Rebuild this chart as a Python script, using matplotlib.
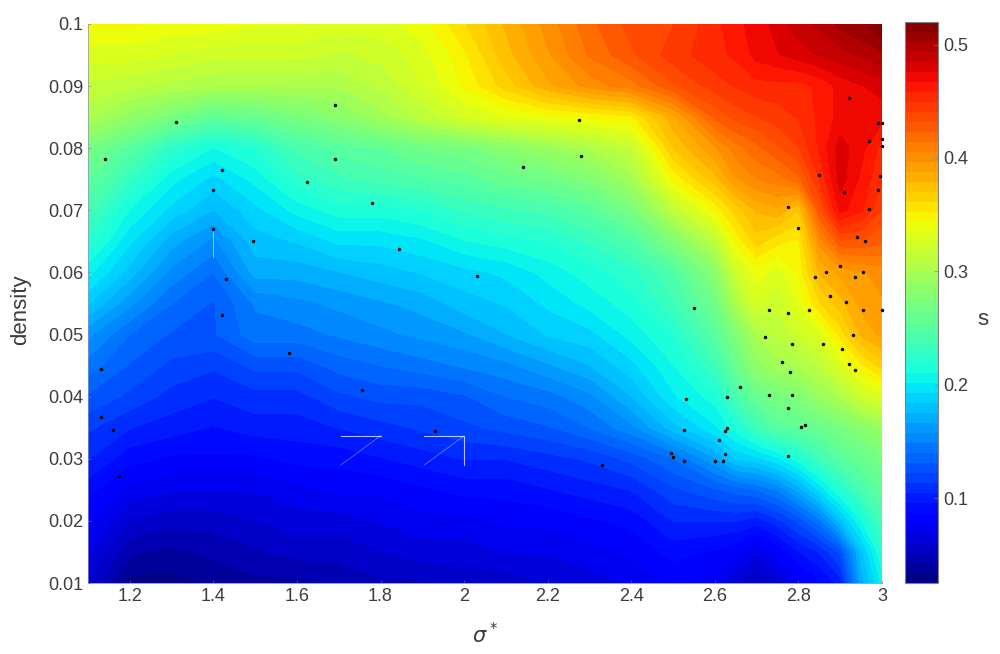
# s as a function of sigma* and density
import matplotlib
matplotlib.use("Agg")
import matplotlib.pyplot as plt
import numpy as np

plt.rcParams['font.family'] = ['Liberation Sans', 'DejaVu Sans']
plt.rcParams['mathtext.fontset'] = 'dejavusans'

text_grey = "#3c3c3c"
frame_grey = "#808080"

sigma = [1.1, 1.2, 1.3, 1.4, 1.5, 1.6, 1.7, 1.8, 1.9, 2.0, 2.1, 2.2, 2.3, 2.4, 2.5, 2.6,
         2.65, 2.7, 2.75, 2.8, 2.85, 2.9, 2.95, 3.0]
density = [0.01, 0.015, 0.02, 0.025, 0.03, 0.035, 0.04, 0.045, 0.05, 0.055,
           0.06, 0.065, 0.07, 0.075, 0.08, 0.085, 0.09, 0.095, 0.1]

# surface, bottom row first
s_values = [
    [.06, .03, .03, .035, .04, .04, .045, .05, .05, .055, .055, .06, .065, .07, .08, .075, .06, .05, .06, .075, .085, .10, .17, .205],
    [.07, .045, .04, .045, .05, .055, .055, .06, .065, .065, .07, .07, .075, .08, .09, .085, .08, .07, .08, .095, .105, .125, .18, .22],
    [.08, .06, .055, .055, .06, .065, .065, .07, .075, .075, .08, .08, .085, .09, .105, .105, .105, .10, .11, .125, .145, .18, .21, .24],
    [.09, .075, .07, .07, .07, .075, .08, .08, .085, .09, .09, .095, .10, .105, .12, .13, .135, .14, .15, .17, .195, .22, .24, .255],
    [.105, .09, .085, .085, .085, .09, .09, .095, .10, .105, .105, .11, .115, .125, .14, .165, .185, .19, .20, .215, .235, .25, .26, .27],
    [.115, .105, .10, .095, .10, .10, .105, .11, .115, .12, .125, .13, .14, .155, .18, .20, .215, .235, .25, .255, .26, .27, .28, .29],
    [.13, .12, .11, .105, .11, .11, .12, .125, .125, .13, .14, .145, .155, .175, .20, .215, .24, .26, .27, .275, .29, .30, .32, .33],
    [.145, .13, .12, .115, .125, .125, .135, .14, .145, .15, .155, .165, .175, .19, .21, .235, .26, .285, .295, .30, .31, .33, .35, .365],
    [.16, .14, .13, .13, .145, .145, .15, .155, .16, .165, .175, .185, .19, .205, .22, .25, .275, .30, .31, .32, .33, .355, .38, .39],
    [.185, .16, .14, .13, .15, .155, .16, .165, .17, .18, .185, .195, .205, .215, .235, .265, .30, .325, .32, .335, .36, .375, .39, .395],
    [.205, .18, .155, .14, .17, .17, .175, .18, .185, .19, .195, .205, .215, .225, .245, .28, .32, .34, .33, .345, .38, .39, .395, .40],
    [.225, .195, .17, .155, .18, .185, .195, .195, .20, .21, .215, .22, .23, .245, .275, .31, .345, .365, .355, .35, .40, .43, .43, .425],
    [.24, .21, .19, .175, .19, .205, .215, .215, .22, .23, .235, .24, .25, .27, .31, .345, .365, .38, .385, .37, .43, .47, .46, .44],
    [.255, .23, .205, .19, .205, .225, .235, .24, .245, .25, .26, .265, .275, .295, .345, .375, .395, .405, .41, .42, .45, .48, .465, .45],
    [.27, .25, .225, .21, .22, .24, .25, .255, .265, .27, .28, .29, .30, .315, .37, .395, .41, .42, .43, .44, .46, .48, .47, .455],
    [.30, .285, .27, .255, .26, .27, .28, .295, .31, .325, .335, .34, .345, .35, .385, .425, .435, .44, .445, .45, .46, .47, .47, .47],
    [.315, .31, .305, .30, .30, .30, .30, .31, .325, .345, .365, .385, .40, .41, .43, .445, .45, .455, .455, .455, .46, .47, .475, .48],
    [.33, .33, .325, .32, .32, .32, .315, .32, .33, .35, .375, .395, .415, .43, .445, .455, .46, .47, .475, .48, .485, .49, .495, .50],
    [.345, .345, .34, .34, .335, .335, .33, .33, .34, .36, .38, .40, .42, .435, .44, .455, .465, .47, .48, .49, .495, .505, .51, .52],
]

# sample points
point_sigma = [1.31, 1.14, 1.4, 1.42, 1.4, 1.495, 1.43, 1.42, 1.625, 1.69, 1.69, 1.78, 1.845, 2.03, 2.14, 2.275,
               2.28, 1.58, 1.755, 1.93, 1.13, 1.13, 1.16, 1.175, 2.33, 2.55, 2.53, 2.525, 2.495, 2.5, 2.525, 2.6,
               2.62, 2.625, 2.61, 2.625, 2.63, 2.63, 2.66, 2.72, 2.73, 2.73, 2.76, 2.775, 2.785, 2.78, 2.785,
               2.775, 2.805, 2.815, 2.775, 2.775, 2.8, 2.825, 2.84, 2.85, 2.865, 2.86, 2.875, 2.9, 2.905, 2.915,
               2.92, 2.93, 2.935, 2.935, 2.94, 2.955, 2.955, 2.96, 2.97, 2.91, 2.92, 2.97, 2.99, 3.0, 2.99, 2.995,
               3.0, 3.0, 3.0]
point_density = [.0842, .0782, .0733, .0765, .067, .065, .059, .0532, .0745, .087, .0782, .0712, .0638, .0594, .0769,
                 .0845, .0788, .047, .041, .0345, .0445, .0368, .0347, .0273, .029, .0543, .0397, .0346, .031, .0303,
                 .0296, .0297, .0297, .0307, .033, .0345, .035, .04, .0416, .0496, .054, .0403, .0455, .0535, .0485,
                 .044, .0403, .0382, .0351, .0354, .0305, .0705, .0672, .054, .0592, .0757, .06, .0485, .0562, .061,
                 .0476, .0553, .0453, .05, .0443, .0592, .0657, .06, .054, .065, .0702, .073, .088, .0812, .084, .084,
                 .0732, .0755, .054, .0815, .0803]

# thin white slivers left in the filled surface
sliver_a_sigma = [1.705, 1.8, 1.705]
sliver_a_density = [.0337, .0337, .029]
sliver_b_sigma = [1.905, 2.0, 2.0]
sliver_b_density = [.0337, .0337, .029]
sliver_c_sigma = [2.0, 1.905]
sliver_c_density = [.0337, .029]
sliver_d_sigma = [1.4, 1.4]
sliver_d_density = [.067, .0625]

fig = plt.figure(figsize=(10, 6.54), dpi=100)
ax = fig.add_axes([0.088, 0.1085, 0.794, 0.855])
cax = fig.add_axes([0.905, 0.1085, 0.033, 0.858])

levels = np.linspace(0.025, 0.52, 57)
cs = ax.contourf(sigma, density, np.array(s_values), levels=levels, cmap="jet", vmin=0.025, vmax=0.52)

ax.plot(sliver_a_sigma[:2], sliver_a_density[:2], color="white", lw=0.8, alpha=0.7)
ax.plot(sliver_a_sigma[1:], sliver_a_density[1:], color="white", lw=0.5, alpha=0.45)
ax.plot(sliver_b_sigma, sliver_b_density, color="white", lw=0.8, alpha=0.7)
ax.plot(sliver_c_sigma, sliver_c_density, color="white", lw=0.5, alpha=0.45)
ax.plot(sliver_d_sigma, sliver_d_density, color="white", lw=0.6, alpha=0.6)

ax.plot(point_sigma, point_density, ls="none", marker="o", ms=2.5, mew=0, color="black", clip_on=False)

ax.set_xlim(1.1, 3)
ax.set_ylim(0.01, 0.1)
ax.set_xticks([1.2, 1.4, 1.6, 1.8, 2, 2.2, 2.4, 2.6, 2.8, 3])
ax.set_xticklabels(["1.2", "1.4", "1.6", "1.8", "2", "2.2", "2.4", "2.6", "2.8", "3"])
ax.set_yticks([0.01, 0.02, 0.03, 0.04, 0.05, 0.06, 0.07, 0.08, 0.09, 0.1])
ax.set_yticklabels(["0.01", "0.02", "0.03", "0.04", "0.05", "0.06", "0.07", "0.08", "0.09", "0.1"])
ax.tick_params(direction="in", length=2, width=0.4, labelsize=13, color=frame_grey, labelcolor=text_grey)
ax.set_xlabel(r"$\sigma^*$", fontsize=15, labelpad=12, color=text_grey)
ax.set_ylabel("density", fontsize=16, labelpad=12, color=text_grey, y=0.488)
ax.spines["top"].set_visible(False)
ax.spines["right"].set_visible(False)
ax.spines["left"].set_linewidth(0.5)
ax.spines["left"].set_color("#9090c0")
ax.spines["bottom"].set_linewidth(0.5)
ax.spines["bottom"].set_color(frame_grey)

cb = fig.colorbar(cs, cax=cax, ticks=[0.1, 0.2, 0.3, 0.4, 0.5])
cb.ax.tick_params(direction="in", length=3, width=0.5, labelsize=13, color=frame_grey, labelcolor=text_grey)
cb.outline.set_linewidth(0.8)
cb.outline.set_edgecolor(frame_grey)
cb.ax.text(2.36, 0.469, "s", transform=cb.ax.transAxes, fontsize=16, color=text_grey, ha="center", va="center")

fig.savefig("out.png", dpi=100)
